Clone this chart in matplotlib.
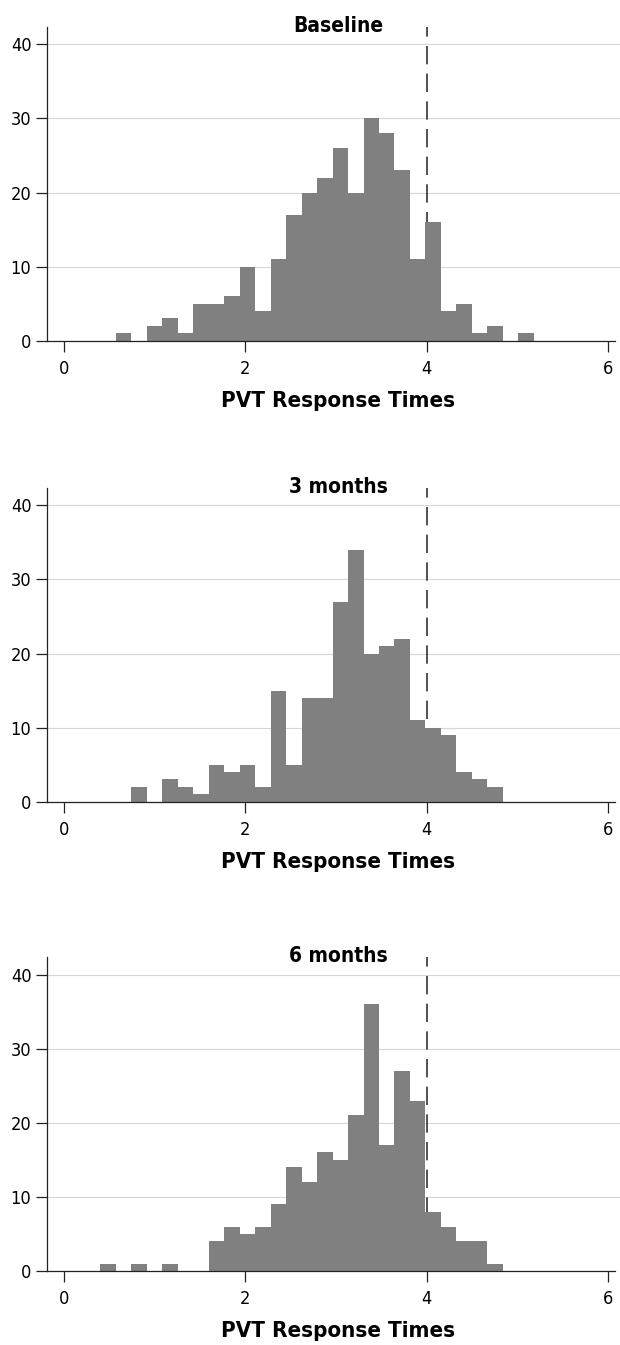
import numpy as np
import matplotlib
matplotlib.use("Agg")
import matplotlib.pyplot as plt

# Histogram data (counts per bin, common bin grid)
titles = ["Baseline", "3 months", "6 months"]
bin_start = 0.397
bin_width = 0.171
baseline_counts = [0, 1, 0, 2, 3, 1, 5, 5, 6, 10, 4, 11, 17, 20, 22, 26,
                   20, 30, 28, 23, 11, 16, 4, 5, 1, 2, 0, 1]
month3_counts = [0, 0, 2, 0, 3, 2, 1, 5, 4, 5, 2, 15, 5, 14, 14, 27,
                 34, 20, 21, 22, 11, 10, 9, 4, 3, 2]
month6_counts = [1, 0, 1, 0, 1, 0, 0, 4, 6, 5, 6, 9, 14, 12, 16, 15,
                 21, 36, 17, 27, 23, 8, 6, 4, 4, 1]
cutoff = 4
x_ticks = [0, 2, 4, 6]
y_ticks = [0, 10, 20, 30, 40]
x_label = "PVT Response Times"

plt.rcParams["font.family"] = ["DejaVu Sans"]
plt.rcParams["font.stretch"] = "condensed"

W, H = 620, 1345
fig = plt.figure(figsize=(W / 100, H / 100), dpi=100)

# pixel row of each panel's x axis
axis_rows = [340.7, 801.7, 1271.0]
ymax = 42.4
px_per_count = 7.41
left_px = 46.7

for title, counts, row in zip(titles, [baseline_counts, month3_counts, month6_counts], axis_rows):
    ax = fig.add_axes([left_px / W, 1 - row / H, (W - left_px) / W, ymax * px_per_count / H])
    ax.set_xlim(-0.194, 6.136)
    ax.set_ylim(0, ymax)

    edges = bin_start + bin_width * np.arange(len(counts))
    ax.bar(edges, counts, width=bin_width, align="edge", color="#808080",
           linewidth=0, zorder=3)
    ax.axvline(cutoff, color="#333333", lw=1.2, dashes=(11, 5.6), zorder=2)

    ax.set_yticks(y_ticks)
    ax.set_xticks(x_ticks)
    ax.yaxis.grid(True, color="#d6d6d6", lw=0.8)
    ax.set_axisbelow(True)

    for s in ["top", "right"]:
        ax.spines[s].set_visible(False)
    ax.spines["bottom"].set_bounds(-0.194, 6.077)
    for s in ["left", "bottom"]:
        ax.spines[s].set_color("#222222")
        ax.spines[s].set_linewidth(0.9)
        ax.spines[s].set_zorder(4)

    ax.tick_params(axis="both", direction="out", length=8, width=0.9,
                   color="#222222", labelsize=13.1)
    ax.tick_params(axis="x", pad=6)
    ax.tick_params(axis="y", pad=3)

    fig.text(338.3 / W, 1 - (row - 308.7) / H, title, fontsize=15,
             fontweight="bold", ha="center", va="baseline")
    fig.text(338.3 / W, 1 - (row + 66.3) / H, x_label, fontsize=16,
             fontweight="bold", ha="center", va="baseline")

fig.savefig("out.png", dpi=100)
